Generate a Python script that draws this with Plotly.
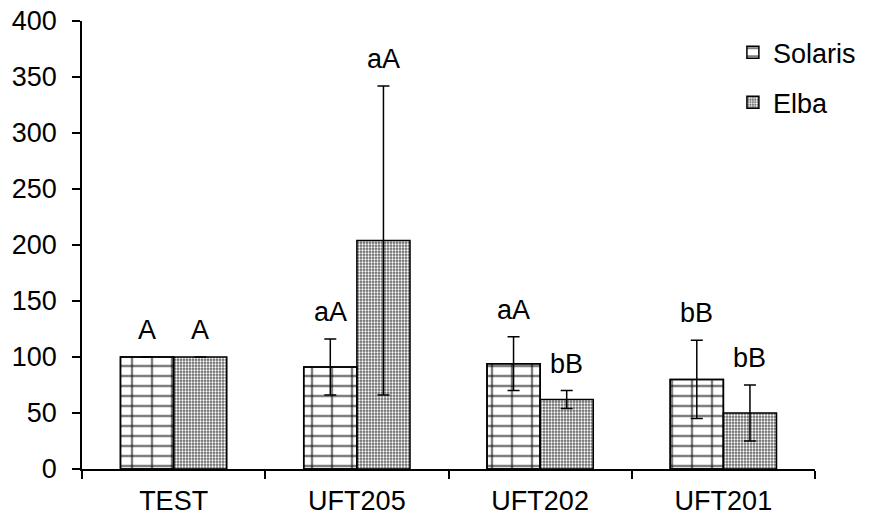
import plotly.graph_objects as go

categories = ["TEST", "UFT205", "UFT202", "UFT201"]
solaris = [100, 91, 94, 80]
solaris_err = [0, 25, 24, 35]
elba = [100, 204, 62, 50]
elba_err = [0, 138, 8, 25]
solaris_labels = ["A", "aA", "aA", "bB"]
elba_labels = ["A", "aA", "bB", "bB"]

FONT = "Liberation Sans, Arial, sans-serif"
FS = 27

fig = go.Figure()

fig.add_trace(go.Bar(
    name="Solaris", x=categories, y=solaris, offsetgroup="s", legendgroup="s",
    marker=dict(color="white", line=dict(color="black", width=1.5),
                pattern=dict(shape="-", size=10, solidity=0.25, fgcolor="black",
                             bgcolor="white", fillmode="overlay")),
))
fig.add_trace(go.Bar(
    name="Elba", x=categories, y=elba, offsetgroup="e", legendgroup="e",
    marker=dict(color="#8a8a8a", line=dict(color="black", width=1.5),
                pattern=dict(shape=".", size=3, solidity=0.45, fgcolor="white",
                             bgcolor="#656565", fillmode="replace")),
    error_y=dict(type="data", array=elba_err, visible=True, color="black",
                 thickness=1.5, width=6),
))
fig.add_trace(go.Bar(
    name="Solaris", x=categories, y=solaris, offsetgroup="s", legendgroup="s",
    showlegend=False,
    marker=dict(color="rgba(0,0,0,0)", line=dict(color="black", width=1.5),
                pattern=dict(shape="|", size=20, solidity=0.12, fgcolor="black",
                             bgcolor="rgba(0,0,0,0)", fillmode="overlay")),
    error_y=dict(type="data", array=solaris_err, visible=True, color="black",
                 thickness=1.5, width=6),
))

annotations = []
for i, c in enumerate(categories):
    annotations.append(dict(x=c, y=solaris[i] + solaris_err[i], text=solaris_labels[i],
                            xref="x", yref="y", showarrow=False, yanchor="bottom",
                            xshift=-26.5, yshift=10, font=dict(family=FONT, size=FS, color="black")))
    annotations.append(dict(x=c, y=elba[i] + elba_err[i], text=elba_labels[i],
                            xref="x", yref="y", showarrow=False, yanchor="bottom",
                            xshift=26.5, yshift=10, font=dict(family=FONT, size=FS, color="black")))

fig.update_layout(
    width=869, height=519,
    margin=dict(l=82, r=54, t=21, b=50, autoexpand=False),
    paper_bgcolor="white", plot_bgcolor="white",
    barmode="group", bargap=0.42, bargroupgap=0,
    font=dict(family=FONT, size=FS, color="black"),
    annotations=annotations,
    legend=dict(x=0.888, y=0.984, xanchor="left", yanchor="top",
                font=dict(family=FONT, size=FS, color="black"),
                bgcolor="rgba(0,0,0,0)", tracegroupgap=12, traceorder="grouped"),
    xaxis=dict(showline=True, linecolor="black", linewidth=1.5, ticks="outside",
               tickson="boundaries", ticklen=8, tickwidth=1.5, tickcolor="black",
               showgrid=False, automargin=False, ticklabelstandoff=7,
               tickfont=dict(family=FONT, size=FS, color="black")),
    yaxis=dict(range=[0, 400], dtick=50, showline=True, linecolor="black", linewidth=1.5,
               ticks="outside", ticklen=8, tickwidth=1.5, tickcolor="black",
               showgrid=False, zeroline=False, ticklabelstandoff=10, automargin=False,
               tickfont=dict(family=FONT, size=FS, color="black")),
)

fig.write_html("out.html", config={"displayModeBar": False},
               post_script="document.body.style.margin='0';document.body.style.overflow='hidden';")
